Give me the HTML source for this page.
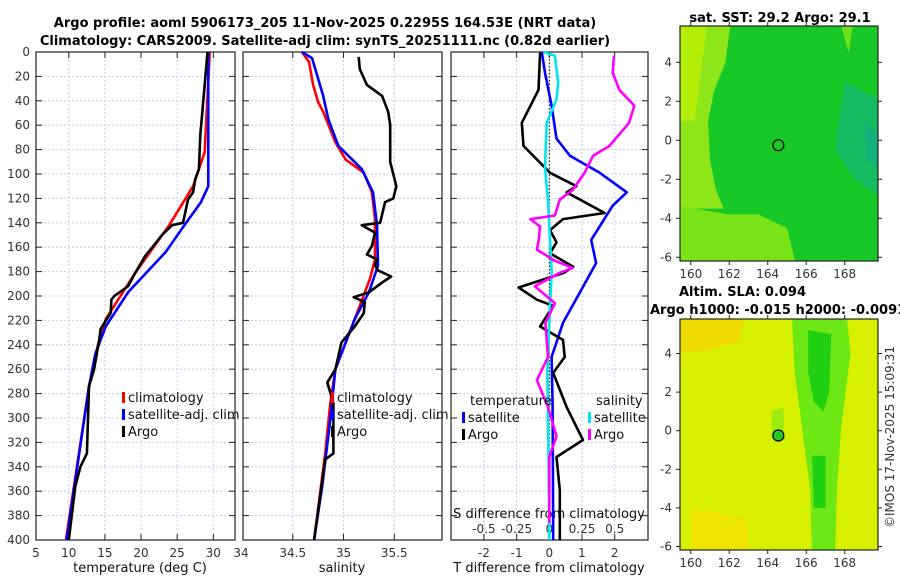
<!DOCTYPE html>
<html><head><meta charset="utf-8">
<style>
body{margin:0;background:#fff;}
svg{display:block;font-family:"DejaVu Sans","Liberation Sans",sans-serif;}
.tk{font-size:12px;fill:#333;}
.tt{font-size:13px;font-weight:bold;fill:#000;}
.lg{font-size:13px;fill:#111;}
</style></head>
<body>
<svg id="fig" width="900" height="580" viewBox="0 0 900 580" xmlns="http://www.w3.org/2000/svg">
<rect width="900" height="580" fill="#fff"/>
<text class="tt" x="325" y="27" text-anchor="middle">Argo profile: aoml 5906173_205 11-Nov-2025 0.2295S 164.53E (NRT data)</text>
<text class="tt" x="325" y="45" text-anchor="middle">Climatology: CARS2009. Satellite-adj clim: synTS_20251111.nc (0.82d earlier)</text>
<g id="p1"></g>
<g id="p2"></g>
<g id="p3"></g>
<g id="m1"></g>
<g id="m2"></g>
<text class="tt" x="780" y="22" text-anchor="middle">sat. SST: 29.2 Argo: 29.1</text>
<text class="tt" x="679" y="296">Altim. SLA: 0.094</text>
<text class="tt" x="650" y="314">Argo h1000: -0.015 h2000: -0.0091</text>
<text class="tk" transform="translate(894,437) rotate(-90)" text-anchor="middle">©IMOS 17-Nov-2025 15:09:31</text>
</svg>
<script>
// ---- data ----
const depthTicks=[0,20,40,60,80,100,120,140,160,180,200,220,240,260,280,300,320,340,360,380,400];
const tTicks=[5,10,15,20,25,30];
const sTicks=[34,34.5,35,35.5];
const dTTicks=[-2,-1,0,1,2];
const dSTicks=[-0.5,-0.25,0,0.25,0.5];
const tClimD=[0,82,110,142,181,219,241,274,400];
const tClimV=[29.5,28.8,27.2,23.9,19.2,15.1,14.0,12.8,9.6];
const tSatD=[0,110,123,142,164,197,225,247,274,400];
const tSatV=[29.3,29.3,28.3,26.0,23.4,18.2,15.1,13.7,12.8,9.7];
const tArgoD=[0,27,68,96,104,115,121,129,140,142,150,159,167,181,192,200,203,214,227,236,260,274,329,340,356,400];
const tArgoV=[29.2,28.8,28.2,28.0,27.5,27.2,26.5,26.2,25.8,24.3,22.9,21.7,20.6,19.2,18.2,16.3,15.9,15.8,14.4,14.2,13.5,12.8,12.5,11.6,10.9,10.0];
const sClimD=[0,8,27,41,49,74,88,99,115,137,170,186,219,260,288,329,400];
const sClimV=[34.59,34.66,34.70,34.75,34.80,34.92,35.02,35.20,35.28,35.31,35.31,35.26,35.11,34.92,34.87,34.82,34.71];
const sSatD=[0,5,19,36,55,77,96,115,142,175,197,219,260,301,356,400];
const sSatV=[34.59,34.69,34.74,34.80,34.85,34.95,35.18,35.29,35.33,35.34,35.25,35.11,34.92,34.87,34.79,34.71];
const sArgoD=[4,14,27,36,49,60,90,110,120,123,140,142,148,159,166,170,175,179,184,189,197,201,205,214,225,238,260,271,279,288,329,334,400];
const sArgoV=[35.15,35.16,35.23,35.38,35.44,35.46,35.46,35.52,35.49,35.41,35.36,35.18,35.31,35.28,35.23,35.33,35.31,35.34,35.47,35.38,35.25,35.10,35.21,35.20,35.11,34.98,34.92,34.84,34.87,34.90,34.90,34.82,34.71];
const dTSatD=[0,17,44,71,85,99,115,126,154,173,195,222,250,290,400];
const dTSatV=[-0.23,-0.13,0.07,0.22,0.63,1.54,2.37,1.94,1.28,1.43,0.98,0.42,0.07,0.10,0.12];
const dTArgoD=[0.5,31,58,77,99,110,115,132,137,146,156,165,176,181,193,203,208,225,236,250,263,291,318,332,359,386,400];
const dTArgoV=[-0.28,-0.33,-0.84,-0.79,0.02,0.83,0.53,1.69,0.42,0.02,0.22,0.02,0.73,0.45,-0.94,-0.38,0.12,-0.28,0.42,0.47,0.12,0.53,1.03,0.22,0.32,0.32,0.32];
const dSSatD=[0,3,25,39,58,94,126,181,208,263,318,386,400];
const dSSatV=[-0.045,0.043,0.068,0.055,-0.02,-0.033,-0.008,0.018,0.005,-0.015,-0.008,0.0,0.0];
const dSArgoD=[3,17,31,44,58,77,85,99,113,121,134,137,143,154,162,171,177,181,192,206,222,250,269,291,315,332,386];
const dSArgoV=[0.495,0.485,0.535,0.65,0.61,0.46,0.335,0.27,0.18,0.08,0.043,-0.145,-0.07,-0.08,-0.095,0.04,0.18,0.08,-0.11,0.043,-0.03,-0.01,-0.095,-0.01,0.055,0.0,0.0];

const NS='http://www.w3.org/2000/svg';
function mk(parent,tag,attrs,text){const e=document.createElementNS(NS,tag);for(const k in attrs)e.setAttribute(k,attrs[k]);if(text!==undefined)e.textContent=text;parent.appendChild(e);return e;}
const Y0=52,Y1=540;
function yD(d){return Y0+(d/400)*(Y1-Y0);}

function panel(g,x0,x1,xmin,xmax,xt,showY){
  const sx=v=>x0+(v-xmin)/(xmax-xmin)*(x1-x0);
  depthTicks.forEach(d=>{const y=yD(d);
    const l=mk(g,'line',{x1:x0,x2:x1,y1:y,y2:y,stroke:'#b8c4e8','stroke-width':0.8,'stroke-dasharray':'2,2'});
    
    
    mk(g,'line',{x1:x0,x2:x0+6,y1:y,y2:y,stroke:'#222'});
    mk(g,'line',{x1:x1-6,x2:x1,y1:y,y2:y,stroke:'#222'});
    if(showY){const t=mk(g,'text',{class:'tk',x:x0-6,y:y+4,'text-anchor':'end'},String(d));
      
      }
  });
  xt.forEach(v=>{const x=sx(v);
    if(x>x0+1&&x<x1-1){mk(g,'line',{x1:x,x2:x,y1:Y0,y2:Y1,stroke:'#b8c4e8','stroke-width':0.8,'stroke-dasharray':'2,2'});
    mk(g,'line',{x1:x,x2:x,y1:Y1,y2:Y1-6,stroke:'#222'});mk(g,'line',{x1:x,x2:x,y1:Y0,y2:Y0+6,stroke:'#222'});}
  });
  mk(g,'rect',{x:x0,y:Y0,width:x1-x0,height:Y1-Y0,fill:'none',stroke:'#222','stroke-width':1.2});
  return sx;
}
function line(g,sx,D,V,col,name,w){
  const pts=D.map((d,i)=>sx(V[i]).toFixed(1)+','+yD(d).toFixed(1)).join(' ');
  const p=mk(g,'polyline',{points:pts,fill:'none',stroke:col,'stroke-width':w||2.6,'stroke-linejoin':'round'});
  
  
}
function lab(g,x,y,txt,name,cls,anchor){const t=mk(g,'text',{class:cls||'tk',x:x,y:y,'text-anchor':anchor||'middle'},txt);
  
  return t;}
function legendItem(g,x,y,col,txt,name){
  mk(g,'rect',{x:x,y:y-10,width:3,height:11,fill:col});
  const t=mk(g,'text',{class:'lg',x:x+6,y:y},txt);
  
  
}

// Panel 1 temperature
const g1=document.getElementById('p1');
const sx1=panel(g1,36,235,5.46,33,tTicks,true);
tTicks.forEach(v=>lab(g1,v===5?36:sx1(v),557,String(v),'temperature-tick-label'));
lab(g1,241,557,'34','salinity-tick-label');
line(g1,sx1,tClimD,tClimV,'#ff0000','temp-climatology-line');
line(g1,sx1,tSatD,tSatV,'#0000ff','temp-satellite-line');
line(g1,sx1,tArgoD,tArgoV,'#000000','temp-argo-line');
lab(g1,140,572,'temperature (deg C)','temperature-axis-title','lg');
legendItem(g1,122,402,'#ff0000','climatology','legend-climatology');
legendItem(g1,122,419,'#0000ff','satellite-adj. clim','legend-satellite');
legendItem(g1,122,436,'#000000','Argo','legend-argo');

// Panel 2 salinity
const g2=document.getElementById('p2');
const sx2=panel(g2,243,442,34.01,35.97,sTicks,false);
sTicks.slice(1).forEach(v=>lab(g2,sx2(v),557,String(v),'salinity-tick-label'));
line(g2,sx2,sClimD,sClimV,'#ff0000','sal-climatology-line');
line(g2,sx2,sSatD,sSatV,'#0000ff','sal-satellite-line');
line(g2,sx2,sArgoD,sArgoV,'#000000','sal-argo-line');
lab(g2,342,572,'salinity','salinity-axis-title','lg');
legendItem(g2,331,402,'#ff0000','climatology','legend-climatology-2');
legendItem(g2,331,419,'#0000ff','satellite-adj. clim','legend-satellite-2');
legendItem(g2,331,436,'#000000','Argo','legend-argo-2');

// Panel 3 differences
const g3=document.getElementById('p3');
const t0=549.3,tk=32.7;
const sx3=v=>t0+v*tk;
const sxS=v=>t0+v*tk*4;
panel(g3,451,648,(451-t0)/tk,(648-t0)/tk,dTTicks,false);
mk(g3,'line',{x1:t0,x2:t0,y1:Y0,y2:Y1,stroke:'#000','stroke-width':1,'stroke-dasharray':'1.5,2'});
dTTicks.forEach(v=>lab(g3,sx3(v),557,String(v),'tdiff-tick-label'));
dSTicks.forEach(v=>lab(g3,sxS(v),533,String(v),'sdiff-tick-label'));
lab(g3,549,518,'S difference from climatology','sdiff-axis-title','lg');
lab(g3,549,572,'T difference from climatology','tdiff-axis-title','lg');
line(g3,sx3,dTSatD,dTSatV,'#0000ff','tdiff-satellite-line');
line(g3,sx3,dTArgoD,dTArgoV,'#000000','tdiff-argo-line');
line(g3,sxS,dSSatD,dSSatV,'#00e5ee','sdiff-satellite-line');
line(g3,sxS,dSArgoD,dSArgoV,'#ff00ff','sdiff-argo-line');
lab(g3,470,405,'temperature','legend-temperature-header','lg','start');
lab(g3,596,405,'salinity','legend-salinity-header','lg','start');
legendItem(g3,462,422,'#0000ff','satellite','legend-t-satellite');
legendItem(g3,462,439,'#000000','Argo','legend-t-argo');
legendItem(g3,588,422,'#00e5ee','satellite','legend-s-satellite');
legendItem(g3,588,439,'#ff00ff','Argo','legend-s-argo');

// Maps
const lonMin=159.44,lonMax=169.73;
function mapAxes(g,top,bot,y0px,pxdeg,regions,circFill){
  const mx=lon=>680+(lon-lonMin)/(lonMax-lonMin)*198;
  const my=lat=>y0px-lat*pxdeg;
  const cid='clip'+top;
  const cp=mk(g,'clipPath',{id:cid});mk(cp,'rect',{x:680,y:top,width:198,height:bot-top});
  const inner=mk(g,'g',{'clip-path':'url(#'+cid+')'});
  regions.forEach(r=>{
    if(r.rect){mk(inner,'rect',{x:680,y:top,width:198,height:bot-top,fill:r.fill});return;}
    const pts=r.pts.map(p=>mx(p[0]).toFixed(1)+','+my(p[1]).toFixed(1)).join(' ');
    mk(inner,'polygon',{points:pts,fill:r.fill});
  });
  const c=mk(g,'circle',{cx:mx(164.55),cy:my(-0.25),r:5.5,fill:circFill,stroke:'#000','stroke-width':1.2});
  
  
  mk(g,'rect',{x:680,y:top,width:198,height:bot-top,fill:'none',stroke:'#222','stroke-width':1.2});
  [160,162,164,166,168].forEach(l=>{const x=mx(l);
    mk(g,'line',{x1:x,x2:x,y1:top,y2:top-4,stroke:'#222'});mk(g,'line',{x1:x,x2:x,y1:bot,y2:bot+4,stroke:'#222'});
    lab(g,x,bot+17,String(l),'lon-tick-label');});
  [4,2,0,-2,-4,-6].forEach(l=>{const y=my(l);
    mk(g,'line',{x1:680,x2:676,y1:y,y2:y,stroke:'#222'});mk(g,'line',{x1:878,x2:882,y1:y,y2:y,stroke:'#222'});
    lab(g,672,y+4,String(l),'lat-tick-label','tk','end');});
}
mapAxes(document.getElementById('m1'),26,261,140.3,19.5,[
  {rect:1,fill:'#18c826'},
  {pts:[[159,7],[162.2,7],[161.8,4],[161.2,2.5],[160.9,1],[161,-1],[161.3,-2.5],[161.7,-3.5],[159,-3.5]],fill:'#8ee61a'},
  {pts:[[159,7],[161,7],[160.6,4],[160.2,1],[159,1]],fill:'#b4ee08'},
  {pts:[[159,-3.3],[162,-3.8],[163.5,-3.8],[165,-4.5],[165.5,-6.5],[159,-6.5]],fill:'#78e418'},
  {pts:[[167.5,7],[168.2,4.5],[168.6,7]],fill:'#6ee01e'},
  {pts:[[168,3],[170,2],[170,-3],[168.5,-2],[167.5,-0.5]],fill:'#16ba60'},
  {pts:[[169,1],[170,0],[170,-1.5],[169.2,-1]],fill:'#12b07a'}
],'none');
mapAxes(document.getElementById('m2'),319,550,430.7,19.3,[
  {rect:1,fill:'#d6f000'},
  {pts:[[159,7],[163,7],[162.5,4.6],[161,4.2],[159,4]],fill:'#f0dc00'},
  {pts:[[160,-4],[163,-4.5],[163,-6.5],[160,-6.5]],fill:'#eae400'},
  {pts:[[165.2,7],[168,7],[168.3,4],[167.8,0],[167.6,-3],[167.5,-6.5],[166.3,-6.5],[166.2,-3],[165.8,0],[165.4,3]],fill:'#6ee814'},
  {pts:[[164.2,1],[164.8,1.2],[164.9,-0.5],[164.2,-0.4]],fill:'#9cec10'},
  {pts:[[166.1,5.2],[167.3,5],[167.2,2],[166.9,1],[166.4,1.5],[166.1,3]],fill:'#22d012'},
  {pts:[[166.3,-1.3],[167,-1.3],[167,-4],[166.4,-4]],fill:'#22d012'}
],'#22cc22');
</script>
</body></html>
